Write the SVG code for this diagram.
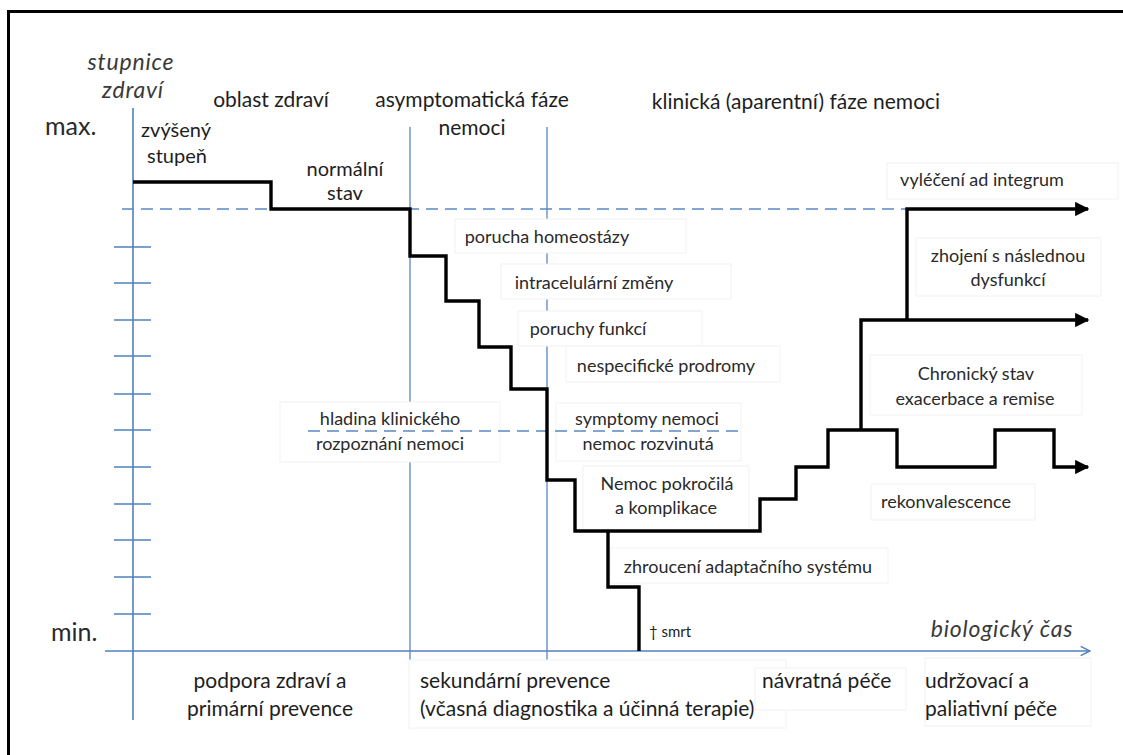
<svg xmlns="http://www.w3.org/2000/svg" width="1123" height="755" viewBox="0 0 1123 755">
  <style>
    .t { font-family: Lato, "Open Sans", "Liberation Sans", sans-serif; fill: #1e1e1e; font-size: 21px; }
    .m { font-size: 20px; }
    .s { font-size: 18px; fill: #2a2a2a; }
    .it { font-style: italic; fill: #3a3a3a; font-size: 23px; letter-spacing: 0.8px; }
    .big { font-size: 25px; fill: #2a2a2a; }
    .box { fill: #ffffff; stroke: #f2f2f2; stroke-width: 1; }
    .axis { stroke: #4f81bd; stroke-width: 1.6; fill: none; }
    .phase { stroke: #5a88c4; stroke-width: 1.3; fill: none; }
    .dash { stroke: #5a88c4; stroke-width: 1.6; stroke-dasharray: 12 7; fill: none; }
    .curve { stroke: #000000; stroke-width: 3.4; fill: none; stroke-linejoin: miter; stroke-linecap: butt; }
  </style>
  <defs>
    <marker id="headBlack" viewBox="0 0 10 10" refX="9" refY="5" markerWidth="4.2" markerHeight="4.2" markerUnits="strokeWidth" orient="auto">
      <path d="M0,0 L10,5 L0,10 Z" fill="#000000"/>
    </marker>
    <marker id="headBlue" viewBox="0 0 12 12" refX="11" refY="6" markerWidth="7" markerHeight="7" markerUnits="strokeWidth" orient="auto">
      <path d="M1,1 L11,6 L1,11" fill="none" stroke="#4f81bd" stroke-width="1.6"/>
    </marker>
  </defs>

  <rect width="1123" height="755" fill="#ffffff"/>

  <!-- frame -->
  <path d="M8.5,755 V11.5 H1123" fill="none" stroke="#000000" stroke-width="3"/>

  <!-- phase separators -->
  <g id="phases">
    <line class="phase" x1="410" y1="127" x2="410" y2="665"/>
    <line class="phase" x1="547" y1="127" x2="547" y2="660"/>
  </g>

  <!-- health scale axis with ticks -->
  <g id="health-axis">
    <line class="axis" x1="133" y1="108" x2="133" y2="720"/>
    <path class="axis" d="M114,247 H151 M114,283 H151 M114,320 H151 M114,356 H151 M114,394 H151 M114,430 H151 M114,467 H151 M114,504 H151 M114,540 H151 M114,577 H151 M114,614 H151"/>
  </g>

  <!-- label boxes -->
  <g id="label-boxes">
    <rect class="box" x="455" y="219" width="231" height="34"/>
    <rect class="box" x="501" y="264" width="230" height="35"/>
    <rect class="box" x="518" y="311" width="184" height="35"/>
    <rect class="box" x="566" y="346" width="214" height="36"/>
    <rect class="box" x="280" y="402" width="220" height="60"/>
    <rect class="box" x="556" y="403" width="185" height="58"/>
    <rect class="box" x="583" y="466" width="166" height="64"/>
    <rect class="box" x="610" y="548" width="278" height="35"/>
    <rect class="box" x="871" y="484" width="164" height="36"/>
    <rect class="box" x="887" y="163" width="231" height="36"/>
    <rect class="box" x="916" y="238" width="185" height="58"/>
    <rect class="box" x="870" y="355" width="212" height="60"/>
    <rect class="box" x="409" y="660" width="377" height="68"/>
    <rect class="box" x="755" y="668" width="151" height="42"/>
    <rect class="box" x="925" y="658" width="166" height="68"/>
  </g>

  <!-- reference levels -->
  <g id="levels">
    <line class="dash" x1="122" y1="209" x2="907" y2="209"/>
    <line class="dash" x1="308" y1="431" x2="742" y2="431"/>
  </g>

  <!-- time axis -->
  <g id="time-axis">
    <line class="axis" x1="105" y1="651" x2="1090" y2="651" marker-end="url(#headBlue)"/>
  </g>

  <!-- course of health over time -->
  <g id="connectors">
    <path class="curve" d="M133,182 H271 V209 H410 V256 H446 V301 H479 V347 H511 V389 H547 V480 H575 V531 H760 V499 H796 V467 H828 V430 H897 V467 H995 V430 H1054 V467 H1088" marker-end="url(#headBlack)"/>
    <path class="curve" d="M608,531 V587 H639 V651"/>
    <path class="curve" d="M861,430 V320 H1088" marker-end="url(#headBlack)"/>
    <path class="curve" d="M907,320 V209 H1088" marker-end="url(#headBlack)"/>
  </g>

  <!-- axis captions -->
  <g id="axis-labels">
    <text class="t it" x="131" y="70" text-anchor="middle">stupnice</text>
    <text class="t it" x="133" y="98" text-anchor="middle">zdraví</text>
    <text class="t big" x="45" y="135">max.</text>
    <text class="t big" x="51" y="641">min.</text>
    <text class="t it" x="1002" y="637" text-anchor="middle">biologický čas</text>
  </g>

  <!-- phase headings -->
  <g id="headings">
    <text class="t" x="271" y="107" text-anchor="middle">oblast zdraví</text>
    <text class="t" x="472" y="107" text-anchor="middle">asymptomatická fáze</text>
    <text class="t" x="472" y="135" text-anchor="middle">nemoci</text>
    <text class="t" x="796" y="109" text-anchor="middle">klinická (aparentní) fáze nemoci</text>
  </g>

  <g id="node-zvyseny">
    <text class="t m" x="176" y="137" text-anchor="middle">zvýšený</text>
    <text class="t m" x="177" y="163" text-anchor="middle">stupeň</text>
  </g>
  <g id="node-normalni">
    <text class="t m" x="345" y="176" text-anchor="middle">normální</text>
    <text class="t m" x="345" y="200" text-anchor="middle">stav</text>
  </g>
  <g id="node-homeostaza"><text class="t s" x="547" y="243" text-anchor="middle">porucha homeostázy</text></g>
  <g id="node-intracelularni"><text class="t s" x="594" y="289" text-anchor="middle">intracelulární změny</text></g>
  <g id="node-funkce"><text class="t s" x="588" y="335" text-anchor="middle">poruchy funkcí</text></g>
  <g id="node-prodromy"><text class="t s" x="666" y="372" text-anchor="middle">nespecifické prodromy</text></g>
  <g id="node-hladina">
    <text class="t s" x="390" y="425" text-anchor="middle">hladina klinického</text>
    <text class="t s" x="390" y="450" text-anchor="middle">rozpoznání nemoci</text>
  </g>
  <g id="node-symptomy">
    <text class="t s" x="647" y="425" text-anchor="middle">symptomy nemoci</text>
    <text class="t s" x="648" y="450" text-anchor="middle">nemoc rozvinutá</text>
  </g>
  <g id="node-pokrocila">
    <text class="t s" x="667" y="490" text-anchor="middle">Nemoc pokročilá</text>
    <text class="t s" x="666" y="514" text-anchor="middle">a komplikace</text>
  </g>
  <g id="node-zhrouceni"><text class="t s" x="748" y="573" text-anchor="middle">zhroucení adaptačního systému</text></g>
  <g id="node-smrt"><text class="t" x="649" y="637" style="font-size:15px">† smrt</text></g>
  <g id="node-vyleceni"><text class="t s" x="982" y="186" text-anchor="middle">vyléčení ad integrum</text></g>
  <g id="node-zhojeni">
    <text class="t s" x="1008" y="262" text-anchor="middle">zhojení s následnou</text>
    <text class="t s" x="1008" y="286" text-anchor="middle">dysfunkcí</text>
  </g>
  <g id="node-chronicky">
    <text class="t s" x="976" y="380" text-anchor="middle">Chronický stav</text>
    <text class="t s" x="975" y="405" text-anchor="middle">exacerbace a remise</text>
  </g>
  <g id="node-rekonvalescence"><text class="t s" x="946" y="508" text-anchor="middle">rekonvalescence</text></g>

  <!-- care types under the time axis -->
  <g id="node-podpora">
    <text class="t" x="270" y="688" text-anchor="middle">podpora zdraví a</text>
    <text class="t" x="270" y="716" text-anchor="middle">primární prevence</text>
  </g>
  <g id="node-sekundarni">
    <text class="t" x="420" y="688">sekundární prevence</text>
    <text class="t" x="420" y="716">(včasná diagnostika a účinná terapie)</text>
  </g>
  <g id="node-navratna"><text class="t" x="762" y="688">návratná péče</text></g>
  <g id="node-udrzovaci">
    <text class="t" x="925" y="688">udržovací a</text>
    <text class="t" x="925" y="716">paliativní péče</text>
  </g>
</svg>
